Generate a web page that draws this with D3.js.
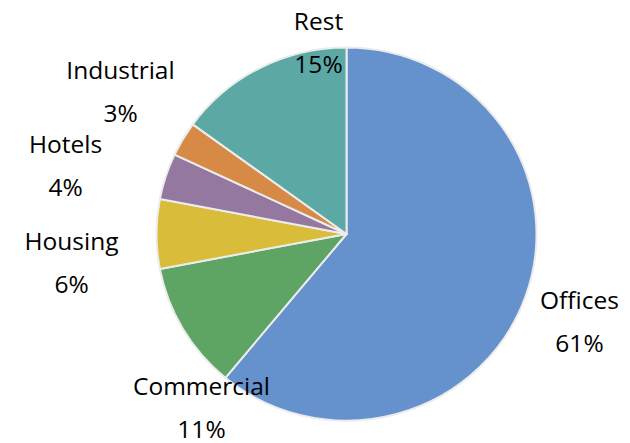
<!DOCTYPE html>
<html>
<head>
<meta charset="utf-8">
<script src="https://cdn.jsdelivr.net/npm/d3@7"></script>
<style>
  html, body { margin: 0; padding: 0; background: #ffffff; }
  svg { display: block; }
  text { font-family: "Open Sans", "DejaVu Sans", sans-serif; fill: #000; }
</style>
</head>
<body>
<svg id="chart" width="630" height="443"></svg>
<script>
// Share of floor space by use, in percent
const categories = ["Offices", "Commercial", "Housing", "Hotels", "Industrial", "Rest"];
const shares = [61, 11, 6, 4, 3, 15];
const colors = ["#6592CC", "#5EA465", "#D8BC3A", "#9578A0", "#D68A45", "#5BA8A4"];

// Where each label block sits, relative to the pie centre (name baseline)
const labelOffsets = [
  [233, 75],    // Offices
  [-145, 161],  // Commercial
  [-275, 16],   // Housing
  [-281, -81],  // Hotels
  [-226, -155], // Industrial
  [-28, -204]   // Rest
];

const width = 630, height = 443;
const cx = 346.5, cy = 234, radius = 190;

const svg = d3.select("#chart");

const pie = d3.pie().sort(null).value(d => d.value);
const arc = d3.arc().innerRadius(0).outerRadius(radius);

const data = categories.map((c, i) => ({ name: c, value: shares[i], color: colors[i], offset: labelOffsets[i] }));
const arcs = pie(data);

const pieG = svg.append("g")
  .attr("transform", `translate(${cx},${cy}) scale(1,0.982)`);

pieG.selectAll("path.slice")
  .data(arcs)
  .join("path")
  .attr("class", "slice")
  .attr("d", arc)
  .attr("fill", d => d.data.color)
  .attr("stroke", "#ececec")
  .attr("stroke-width", 2)
  .attr("stroke-linejoin", "round");

const fmt = d3.format(".0f");

const labels = svg.append("g")
  .attr("transform", `translate(${cx},${cy})`)
  .selectAll("g.label")
  .data(arcs)
  .join("g")
  .attr("class", "label")
  .attr("transform", d => `translate(${d.data.offset[0]},${d.data.offset[1]})`);

labels.append("text")
  .attr("text-anchor", "middle")
  .attr("font-size", 24.5)
  .text(d => d.data.name);

labels.append("text")
  .attr("text-anchor", "middle")
  .attr("y", 42.5)
  .attr("font-size", 24.5)
  .text(d => fmt(d.data.value) + "%");
</script>
</body>
</html>
